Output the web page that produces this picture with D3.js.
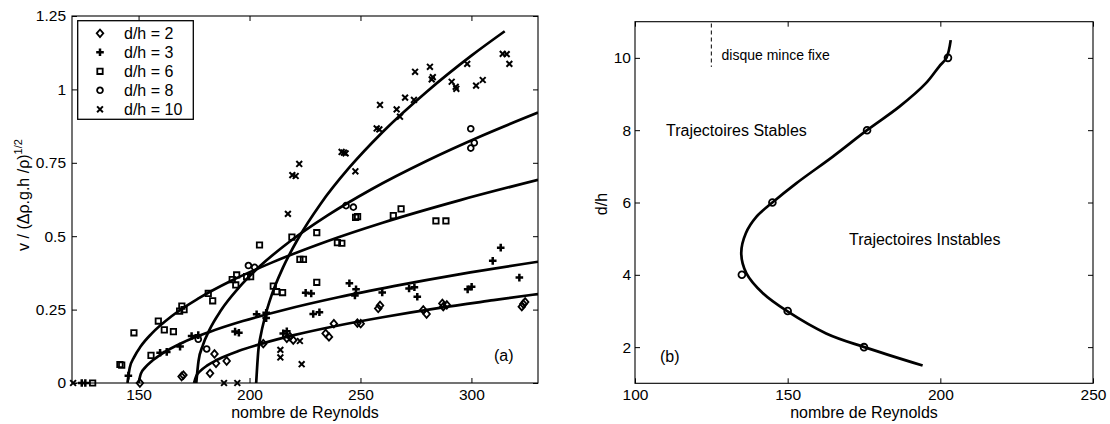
<!DOCTYPE html>
<html>
<head>
<meta charset="utf-8">
<script src="https://cdn.jsdelivr.net/npm/d3@7"></script>
<style>
  html, body { margin: 0; padding: 0; background: #fff; }
  svg { display: block; }
  text { font-family: "Liberation Sans", Arial, Helvetica, sans-serif; fill: #000; }
</style>
</head>
<body>
<svg id="chart" width="1110" height="424"></svg>
<script>
// ---------- Panel (a): measured velocities, v / (Δρ g h / ρ)^1/2 vs Re ----------
const seriesLabels = ["d/h = 2", "d/h = 3", "d/h = 6", "d/h = 8", "d/h = 10"];
const seriesMarkers = ["diamond", "plus", "square", "circle", "cross"];

// [Re, v] pairs for each aspect ratio
const pointsDh2 = [[150.6,0],[169.4,0.022],[170.2,0.027],[182.2,0.033],[184.2,0.099],[184.9,0.067],[189.7,0.075],
  [206.2,0.134],[216.8,0.152],[218.2,0.158],[219.7,0.146],[234.3,0.169],[235.8,0.157],[238,0.202],[248.6,0.204],
  [250.1,0.202],[258,0.254],[258.8,0.264],[278.3,0.249],[279.8,0.235],[286.9,0.271],[287.3,0.26],[288.9,0.266],
  [322.7,0.26],[323.4,0.269],[324.2,0.276]];
const pointsDh3 = [[124.4,0],[126,0],[145.4,0.025],[159.7,0.103],[162.7,0.106],[168.7,0.124],[173.9,0.16],[176.9,0.163],
  [193.5,0.175],[195.2,0.171],[203.2,0.234],[207.5,0.239],[207.5,0.221],[215.2,0.169],[216.8,0.176],[225.3,0.307],
  [227.8,0.305],[228.7,0.235],[231.5,0.241],[245,0.34],[248,0.319],[247.5,0.298],[259.8,0.308],[271.9,0.322],
  [274.3,0.326],[275.6,0.294],[298.3,0.319],[300.1,0.328],[309.6,0.416],[313.2,0.461],[321.6,0.359]];
const pointsDh6 = [[129.3,0],[141.6,0.063],[142.4,0.061],[147.9,0.171],[155.6,0.094],[158.9,0.211],[161.6,0.181],[165.7,0.175],
  [168.5,0.245],[169.5,0.262],[170.5,0.25],[181.4,0.305],[183.4,0.28],[192.2,0.352],[193.8,0.334],[194.2,0.368],
  [198.7,0.362],[200.5,0.362],[204.5,0.47],[210.7,0.33],[212.2,0.311],[214.9,0.308],[219.1,0.497],[222.7,0.421],
  [224.3,0.421],[230.3,0.512],[230.3,0.343],[239.6,0.478],[241.6,0.476],[247.8,0.564],[248.7,0.567],[264.8,0.57],
  [268.3,0.593],[284,0.552],[288.5,0.552]];
const pointsDh8 = [[176.9,0.149],[180.7,0.116],[199.5,0.4],[202.3,0.394],[243.5,0.604],[246.8,0.599],
  [299.7,0.866],[301.3,0.818],[299.7,0.8]];
const pointsDh10 = [[120.5,0],[188.5,0],[194.5,0],[213.9,0.113],[213.9,0.087],[217.3,0.576],[219.3,0.708],[220.8,0.705],
  [222.4,0.746],[222.7,0.143],[223.5,0.064],[241.5,0.787],[242.5,0.785],[243.3,0.782],[247.7,0.721],[257.3,0.867],
  [258.5,0.864],[258.8,0.947],[266.3,0.932],[267.8,0.907],[270.1,0.972],[274.1,0.964],[274.6,1.06],[281.3,1.077],
  [282.1,1.034],[282.6,1.042],[291.1,1.026],[292.9,1.009],[293.2,1.002],[298.1,1.087],[302.1,1.013],[305.1,1.032],
  [314.1,1.121],[315.9,1.12],[317.1,1.087]];

// fitted bifurcation curves [Re, v], one per aspect ratio
const fitDh2 = [[175,0],[176,0.024],[178,0.042],[181,0.06],[186,0.081],[195,0.109],[206,0.135],[220,0.163],
  [240,0.196],[260,0.224],[285,0.255],[310,0.282],[330,0.303]];
const fitDh3 = [[150,0],[151,0.031],[153,0.053],[156,0.075],[161,0.102],[170,0.138],[182,0.174],[197,0.211],
  [215,0.248],[240,0.292],[265,0.33],[295,0.371],[330,0.413]];
const fitDh6 = [[145,0],[146,0.051],[148,0.088],[151,0.125],[156,0.169],[165,0.228],[177,0.288],[192,0.349],
  [210,0.41],[235,0.483],[260,0.546],[295,0.623],[330,0.692]];
const fitDh8 = [[176,0],[177,0.074],[179,0.129],[182,0.182],[187,0.246],[195,0.323],[205,0.4],[218,0.481],
  [235,0.57],[255,0.66],[280,0.757],[305,0.843],[330,0.921]];
const fitDh10 = [[203,0],[204,0.113],[205,0.16],[207,0.226],[210,0.3],[215,0.392],[222,0.493],[232,0.61],
  [245,0.734],[260,0.855],[280,0.993],[300,1.115],[315,1.198]];

const xTicksA = [150, 200, 250, 300];
const yTicksA = [0, 0.25, 0.5, 0.75, 1, 1.25];

// ---------- Panel (b): critical Reynolds number vs d/h ----------
const criticalDh = [2, 3, 4, 6, 8, 10];
const criticalRe = [175, 150, 135, 145, 176, 202.5];
// smooth boundary through the critical points, [Re, d/h]
const boundaryCurve = [[194.2,1.49],[175.1,2.0],[162.6,2.38],[150.1,2.98],[141.9,3.49],[136.5,4.04],[134.8,4.6],
  [136.3,5.15],[139.8,5.61],[145,6.0],[152.8,6.53],[164.8,7.27],[176,8.0],[186.6,8.65],[195.3,9.3],[199.6,9.76],
  [202,10.0],[203.4,10.49]];
const fixedDiskRe = 125;
const fixedDiskDh = [9.75, 10.95];
const xTicksB = [100, 150, 200, 250];
const yTicksB = [2, 4, 6, 8, 10];

const svg = d3.select("#chart");
const FONT = 16;
const TICK_FONT = 15.5;

// marker shapes drawn around (0,0)
function markerPath(kind) {
  switch (kind) {
    case "diamond": return "M0,-3.8L3.3,0L0,3.8L-3.3,0Z";
    case "square": return "M-2.7,-2.7H2.7V2.7H-2.7Z";
    case "circle": return "M2.9,0A2.9,2.9 0 1,1 -2.9,0A2.9,2.9 0 1,1 2.9,0Z";
    case "plus": return "M-3.8,0H3.8M0,-3.8V3.8";
    case "cross": return "M-2.9,-2.9L2.9,2.9M-2.9,2.9L2.9,-2.9";
  }
}
function markerWidth(kind) {
  return kind === "plus" ? 2.5 : kind === "cross" ? 2 : 1.8;
}

function drawFrame(g, x, y, xTicks, yTicks, xFmt, yFmt, yPad) {
  const [x0, x1] = x.range();
  const [y0, y1] = y.range();
  const tick = 5;
  g.append("rect").attr("x", x0).attr("y", y1).attr("width", x1 - x0).attr("height", y0 - y1)
    .attr("fill", "none").attr("stroke", "#000").attr("stroke-width", 1.1);

  const bottom = g.append("g").attr("transform", `translate(0,${y0})`)
    .call(d3.axisBottom(x).tickValues(xTicks).tickSizeInner(-tick).tickSizeOuter(0).tickPadding(6).tickFormat(xFmt));
  const top = g.append("g").attr("transform", `translate(0,${y1})`)
    .call(d3.axisTop(x).tickValues(xTicks).tickSizeInner(-tick).tickSizeOuter(0).tickFormat(""));
  const left = g.append("g").attr("transform", `translate(${x0},0)`)
    .call(d3.axisLeft(y).tickValues(yTicks).tickSizeInner(-tick).tickSizeOuter(0).tickPadding(yPad).tickFormat(yFmt));
  const right = g.append("g").attr("transform", `translate(${x1},0)`)
    .call(d3.axisRight(y).tickValues(yTicks).tickSizeInner(-tick).tickSizeOuter(0).tickFormat(""));
  [bottom, top, left, right].forEach(a => {
    a.select(".domain").remove();
    a.selectAll("line").attr("stroke", "#000").attr("stroke-width", 1);
    a.selectAll("text").attr("font-size", TICK_FONT).attr("font-family", null).attr("fill", "#000");
  });
}

// ================= Panel (a) =================
{
  const x = d3.scaleLinear().domain([120, 330]).range([72, 538]);
  const y = d3.scaleLinear().domain([0, 1.25]).range([383, 16]);
  const g = svg.append("g");

  const clipId = "clipA";
  g.append("clipPath").attr("id", clipId).append("rect")
    .attr("x", 72).attr("y", 16).attr("width", 466).attr("height", 367);

  const fits = [fitDh2, fitDh3, fitDh6, fitDh8, fitDh10];
  const line = d3.line().x(d => x(d[0])).y(d => y(d[1])).curve(d3.curveMonotoneX);
  g.append("g").attr("clip-path", `url(#${clipId})`)
    .selectAll("path").data(fits).join("path")
    .attr("d", line).attr("fill", "none").attr("stroke", "#000").attr("stroke-width", 2.7)
    .attr("stroke-linejoin", "round").attr("stroke-linecap", "butt");

  const sets = [pointsDh2, pointsDh3, pointsDh6, pointsDh8, pointsDh10];
  sets.forEach((pts, i) => {
    const kind = seriesMarkers[i];
    g.append("g").selectAll("path").data(pts).join("path")
      .attr("transform", d => `translate(${x(d[0])},${y(d[1])})`)
      .attr("d", markerPath(kind)).attr("fill", "none").attr("stroke", "#000")
      .attr("stroke-width", markerWidth(kind));
  });

  drawFrame(g, x, y, xTicksA, yTicksA, d3.format("d"), d => (d === 0 ? "0" : d3.format("~g")(d)), 6);

  // legend
  const lg = g.append("g");
  lg.append("rect").attr("x", 77.7).attr("y", 20.7).attr("width", 115.6).attr("height", 98.6)
    .attr("fill", "#fff").attr("stroke", "#000").attr("stroke-width", 1.3);
  seriesLabels.forEach((lab, i) => {
    const cy = 33.3 + i * 19;
    const kind = seriesMarkers[i];
    lg.append("path").attr("transform", `translate(100,${cy})`).attr("d", markerPath(kind))
      .attr("fill", "none").attr("stroke", "#000").attr("stroke-width", markerWidth(kind));
    lg.append("text").attr("x", 124).attr("y", cy).attr("dy", "0.36em").attr("font-size", FONT).text(lab);
  });

  g.append("text").attr("x", 494).attr("y", 355).attr("dy", "0.36em").attr("font-size", FONT).text("(a)");
  g.append("text").attr("x", 305).attr("y", 418).attr("text-anchor", "middle").attr("font-size", FONT)
    .text("nombre de Reynolds");

  const yl = g.append("text").attr("transform", "translate(28.5,195) rotate(-90)")
    .attr("text-anchor", "middle").attr("font-size", FONT);
  yl.append("tspan").text("v / (\u0394\u03c1.g.h /\u03c1)");
  yl.append("tspan").attr("dy", "-0.55em").attr("font-size", 11).text("1/2");
}

// ================= Panel (b) =================
{
  const x = d3.scaleLinear().domain([100, 250]).range([635, 1093]);
  const y = d3.scaleLinear().domain([1, 11]).range([383.3, 21.7]);
  const g = svg.append("g");

  g.append("path")
    .attr("d", d3.line().x(d => x(d[0])).y(d => y(d[1])).curve(d3.curveCatmullRom.alpha(0.5))(boundaryCurve))
    .attr("fill", "none").attr("stroke", "#000").attr("stroke-width", 2.7);

  g.append("g").selectAll("path").data(criticalDh).join("path")
    .attr("transform", (d, i) => `translate(${x(criticalRe[i])},${y(d)})`)
    .attr("d", "M3.4,0A3.4,3.4 0 1,1 -3.4,0A3.4,3.4 0 1,1 3.4,0Z")
    .attr("fill", "none").attr("stroke", "#000").attr("stroke-width", 1.8);

  g.append("line").attr("x1", x(fixedDiskRe)).attr("x2", x(fixedDiskRe))
    .attr("y1", y(fixedDiskDh[1])).attr("y2", y(fixedDiskDh[0]))
    .attr("stroke", "#000").attr("stroke-width", 1).attr("stroke-dasharray", "4,3");
  g.append("text").attr("x", 721.5).attr("y", 55).attr("dy", "0.36em").attr("font-size", 14).text("disque mince fixe");

  drawFrame(g, x, y, xTicksB, yTicksB, d3.format("d"), d3.format("d"), 4);

  g.append("text").attr("x", 666).attr("y", 130).attr("dy", "0.36em").attr("font-size", FONT).text("Trajectoires Stables");
  g.append("text").attr("x", 849).attr("y", 239).attr("dy", "0.36em").attr("font-size", FONT).text("Trajectoires Instables");
  g.append("text").attr("x", 660).attr("y", 356.5).attr("dy", "0.36em").attr("font-size", FONT).text("(b)");
  g.append("text").attr("x", 864).attr("y", 418).attr("text-anchor", "middle").attr("font-size", FONT)
    .text("nombre de Reynolds");
  g.append("text").attr("transform", "translate(607,204) rotate(-90)").attr("text-anchor", "middle")
    .attr("font-size", FONT).text("d/h");
}
</script>
</body>
</html>
